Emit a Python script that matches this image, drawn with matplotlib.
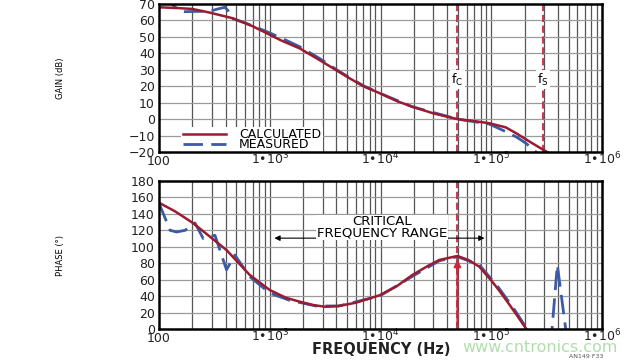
import matplotlib
matplotlib.use("Agg")
import matplotlib.pyplot as plt
from matplotlib.lines import Line2D

# ---------------- data ----------------
gain_calc_f = [100, 150, 200, 290, 465, 700, 940, 1300, 1865, 2800, 4200, 5200, 7000,
               9800, 14000, 19400, 30000, 49500, 70000, 96000, 135000, 169000, 235000, 330000]
gain_calc = [68, 67.5, 67, 64.7, 61.3, 56.5, 52.2, 47.5, 43, 36, 28.8, 25, 20,
             15.8, 11, 7.5, 3.5, 0, -1.2, -2.5, -5, -8.7, -14.7, -20.6]

gain_meas_f = [100, 130, 150, 165, 220, 288, 340, 393, 420, 450, 600, 940, 1300, 1865, 2800,
               4200, 7000, 9800, 19400, 49500, 96000, 136000, 170000, 205000, 260000]
gain_meas = [72, 70, 66.5, 65.3, 65.5, 65.6, 67, 68, 66, 61.3, 58.5, 53.2, 49, 44, 37,
             29.2, 20.3, 15.8, 7.5, 0, -3, -7.7, -11, -14.6, -20.6]

phase_calc_f = [100, 140, 202, 290, 407, 660, 1000, 1400, 1865, 2500, 3200, 4200, 6000,
                9800, 14000, 19400, 27000, 34000, 49500, 62000, 78000, 100000, 117000,
                140000, 165000, 205000, 230000]
phase_calc = [153.6, 143, 129, 112, 96, 65.7, 47.4, 38, 33.2, 29, 27, 28, 32,
              41, 52, 65.7, 77, 84, 88.8, 84, 75.8, 59, 47.4, 33, 19.4, 1, -8]

phase_meas_f = [100, 126, 144, 172, 211, 251, 320, 407, 484, 660, 1000, 1500, 2600, 4200,
                9800, 19400, 34000, 49500, 78000, 117000, 165000, 210000, 260000, 330000,
                354000, 395000, 470000, 520000]
phase_meas = [153, 120, 118, 120, 129, 110, 114, 72, 90, 63.6, 43.7, 35, 28, 28,
              40, 64, 83, 88, 78, 50, 22, 0, -20, -20, 0, 78, 0, -20]

f_c = 49500
f_s = 295000
decade_ticks = [100, 1e3, 1e4, 1e5, 1e6]
decade_labels = ["100", "1•10$^{3}$", "1•10$^{4}$", "1•10$^{5}$", "1•10$^{6}$"]
gain_ticks = list(range(-20, 71, 10))
phase_ticks = list(range(0, 181, 20))

# ---------------- style ----------------
RED = "#9b1b30"
BLUE = "#3b5ba5"
DASHRED = "#c8283e"
plt.rcParams['font.family'] = ['DejaVu Sans']

fig = plt.figure(figsize=(6.4, 3.6), dpi=100)
ax1 = fig.add_axes([159/640, 1-152/360, 443/640, 148/360])
ax2 = fig.add_axes([159/640, 1-329/360, 443/640, 148/360])

minor = [m * 10**e for e in range(2, 6) for m in range(2, 10)]

for ax, yt, ylim in ((ax1, gain_ticks, (-20, 70)), (ax2, phase_ticks, (0, 180))):
    ax.set_xscale('log')
    ax.set_xlim(100, 1e6)
    ax.set_ylim(*ylim)
    for x in decade_ticks[1:-1] + minor:
        ax.axvline(x, color="#555555", lw=0.9, zorder=0)
    for y in yt[1:-1]:
        ax.axhline(y, color="#9a9a9a", lw=0.9, zorder=0)
    ax.set_xticks(decade_ticks)
    ax.set_xticklabels(decade_labels)
    ax.set_xticks([], minor=True)
    ax.set_yticks(yt)
    ax.tick_params(axis="y", length=0, labelsize=9, pad=3, colors="#222222")
    ax.tick_params(axis="x", length=0, labelsize=9, pad=9.2, colors="#222222")
    for lbl in ax.get_xticklabels():
        lbl.set_verticalalignment("baseline")
    for s in ax.spines.values():
        s.set_linewidth(1.8)
        s.set_color("black")
        s.set_zorder(6)

# ---- gain ----
ax1.axvline(f_c, color=DASHRED, lw=1.3, ls=(0, (4, 2)), zorder=1)
ax1.axvline(f_s, color=DASHRED, lw=1.3, ls=(0, (4, 2)), zorder=1)
ax1.plot(gain_calc_f, gain_calc, color=RED, lw=1.8, zorder=3)
ax1.plot(gain_meas_f, gain_meas, color=BLUE, lw=2.0, ls=(0, (7, 3)), zorder=2)
ax1.text(f_c, 24, r"f$_\mathrm{C}$", ha="center", va="center", fontsize=9,
         bbox=dict(facecolor="white", edgecolor="none", pad=1), zorder=4)
ax1.text(f_s, 24, r"f$_\mathrm{S}$", ha="center", va="center", fontsize=9,
         bbox=dict(facecolor="white", edgecolor="none", pad=1), zorder=4)
handles = [Line2D([], [], color=RED, lw=1.8),
           Line2D([], [], color=BLUE, lw=2.0, ls=(0, (7, 3)))]
leg = ax1.legend(handles, ["CALCULATED", "MEASURED"], loc="lower left",
                 bbox_to_anchor=(0.035, -0.05), fontsize=9, frameon=True,
                 handlelength=3.5, handletextpad=1.0, labelspacing=-0.25,
                 borderpad=0.15, fancybox=False)
leg.get_frame().set_edgecolor("none")
leg.get_frame().set_facecolor("white")
leg.get_frame().set_alpha(1)
leg.set_zorder(5)

# ---- phase ----
ax2.axvline(f_c, color=DASHRED, lw=1.3, ls=(0, (4, 2)), zorder=1)
ax2.plot(phase_calc_f, phase_calc, color=RED, lw=1.8, zorder=3)
ax2.plot(phase_meas_f, phase_meas, color=BLUE, lw=2.0, ls=(0, (7, 3)), zorder=2)
ax2.annotate("", xy=(f_c, 88), xytext=(f_c, 0),
             arrowprops=dict(arrowstyle="-|>", color=DASHRED, lw=1.5,
                             mutation_scale=10), zorder=4)
ax2.annotate("", xy=(1.04e3, 110.5), xytext=(9.2e4, 110.5),
             arrowprops=dict(arrowstyle="<|-|>", color="black", lw=0.8,
                             mutation_scale=8), zorder=4)
ax2.text(1.03e4, 123.5, "CRITICAL\nFREQUENCY RANGE", ha="center", va="center",
         fontsize=9.5, linespacing=0.8,
         bbox=dict(facecolor="white", edgecolor="none", pad=0.5), zorder=5)

# ---- labels ----
fig.text(60/640, 1-78/360, "GAIN (dB)", rotation=90, ha="center", va="center",
         fontsize=6, family=["Liberation Sans Narrow", "DejaVu Sans"])
fig.text(60/640, 1-255/360, "PHASE (°)", rotation=90, ha="center", va="center",
         fontsize=6, family=["Liberation Sans Narrow", "DejaVu Sans"])
fig.text(381/640, 1-349/360, "FREQUENCY (Hz)", ha="center", va="center",
         fontsize=10.5, fontweight="bold", color="#222222")
fig.text(540/640, 1-347/360, "www.cntronics.com", ha="center", va="center",
         fontsize=11.5, color="#9fd49a", alpha=0.8,
         family=["Liberation Sans Narrow", "DejaVu Sans"])
fig.text(586/640, 1-357/360, "AN149 F33", ha="center", va="center",
         fontsize=4.5, color="#555555")

fig.savefig("out.png", dpi=100)
